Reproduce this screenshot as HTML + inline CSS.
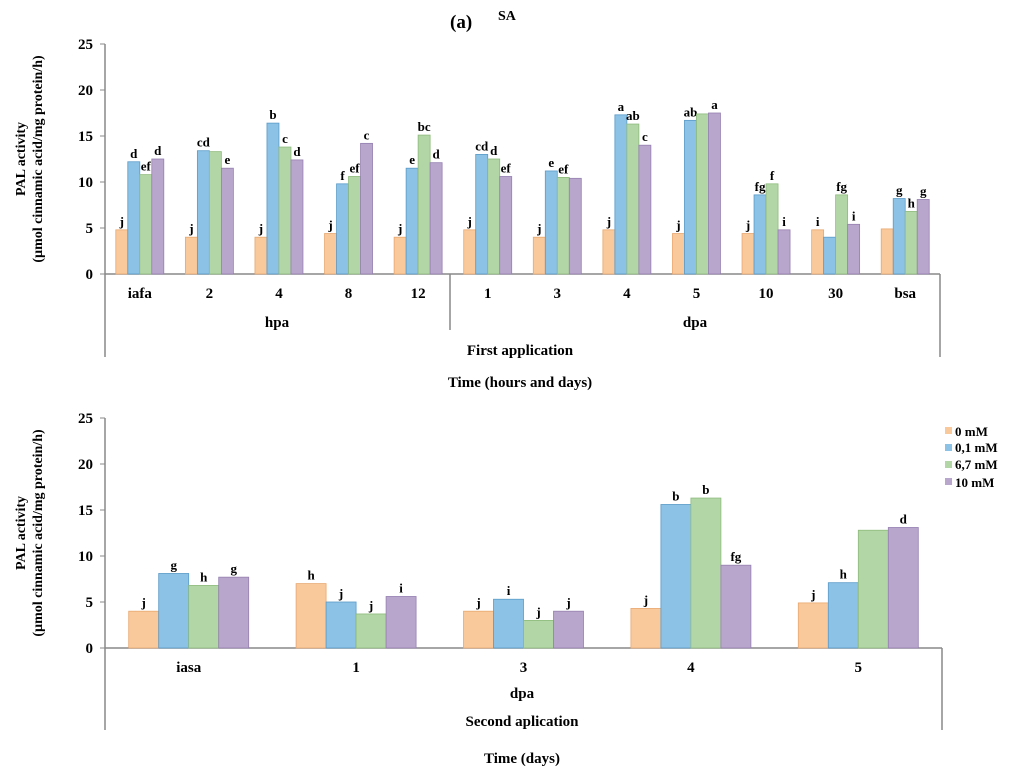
<!DOCTYPE html>
<html><head><meta charset="utf-8"><style>
body{margin:0;background:#fff;}
svg{display:block;font-family:"Liberation Serif",serif;font-weight:bold;}
</style></head><body>
<svg id="c" width="1024" height="773" viewBox="0 0 1024 773" xmlns="http://www.w3.org/2000/svg">
<text x="450" y="28" font-size="19">(a)</text>
<text x="498" y="20" font-size="14">SA</text>
<g id="top"></g><g id="bot"></g>
<g font-size="13">
<rect x="945" y="427" width="7" height="7" fill="#f9c89b"/><text x="955" y="436">0 mM</text>
<rect x="945" y="444" width="7" height="7" fill="#8cc2e6"/><text x="955" y="452">0,1 mM</text>
<rect x="945" y="461" width="7" height="7" fill="#b3d6a6"/><text x="955" y="469">6,7 mM</text>
<rect x="945" y="478" width="7" height="7" fill="#b9a6cc"/><text x="955" y="487">10 mM</text>
</g>
</svg>
<script>
const topCats=["iafa","2","4","8","12","1","3","4","5","10","30","bsa"];
const top0=[4.8,4.0,4.0,4.4,4.0,4.8,4.0,4.8,4.4,4.4,4.8,4.9];
const top1=[12.2,13.4,16.4,9.8,11.5,13.0,11.2,17.3,16.7,8.6,4.0,8.2];
const top2=[10.8,13.3,13.8,10.6,15.1,12.5,10.5,16.3,17.4,9.8,8.6,6.8];
const top3=[12.5,11.5,12.4,14.2,12.1,10.6,10.4,14.0,17.5,4.8,5.4,8.1];
const topLab=[["j","d","ef","d"],["j","cd","","e"],["j","b","c","d"],["j","f","ef","c"],["j","e","bc","d"],["j","cd","d","ef"],["j","e","ef",""],["j","a","ab","c"],["j","ab","","a"],["j","fg","f","i"],["i","","fg","i"],["","g","h","g"]];
const botCats=["iasa","1","3","4","5"];
const bot0=[4.0,7.0,4.0,4.3,4.9];
const bot1=[8.1,5.0,5.3,15.6,7.1];
const bot2=[6.8,3.7,3.0,16.3,12.8];
const bot3=[7.7,5.6,4.0,9.0,13.1];
const botLab=[["j","g","h","g"],["h","j","j","i"],["j","i","j","j"],["j","b","b","fg"],["j","h","","d"]];
const yTicks=[0,5,10,15,20,25];
const colors=["#f9c89b","#8cc2e6","#b3d6a6","#b9a6cc"];
const edges=["#e8a870","#5a9bc8","#8dba7c","#9580b0"];
const NS="http://www.w3.org/2000/svg";
function el(p,t,a,txt){const e=document.createElementNS(NS,t);for(const k in a)e.setAttribute(k,a[k]);if(txt!==undefined)e.textContent=txt;p.appendChild(e);return e;}
function chart(g,x0,x1,y0,cats,series,labs,barW,opt){
  const y=v=>y0-v*9.2;
  const cw=(x1-x0)/cats.length;
  const ax=el(g,"line",{x1:x0,y1:y(25),x2:x0,y2:opt.boxBottom,stroke:"#888","stroke-width":1.5});
  
  el(g,"line",{x1:x0,y1:y0,x2:x1,y2:y0,stroke:"#888","stroke-width":1.5});
  el(g,"line",{x1:x1,y1:y0,x2:x1,y2:opt.boxBottom,stroke:"#888","stroke-width":1.5});
  yTicks.forEach(t=>{
    el(g,"line",{x1:x0-5,y1:y(t),x2:x0,y2:y(t),stroke:"#888"});
    const tx=el(g,"text",{x:x0-12,y:y(t)+5,"font-size":15,"text-anchor":"end"},t);
    
  });
  cats.forEach((c,i)=>{
    const cx=x0+cw*(i+0.5);
    series.forEach((s,j)=>{
      const bx=cx-2*barW+j*barW;
      const r=el(g,"rect",{x:bx,y:y(s[i]),width:barW,height:s[i]*9.2,fill:colors[j],stroke:edges[j],"stroke-width":0.8});
      
      if(labs[i][j]){const l=el(g,"text",{x:bx+barW/2,y:y(s[i])-4,"font-size":opt.lfs,"text-anchor":"middle"},labs[i][j]);
        }
    });
    const tl=el(g,"text",{x:cx,y:y0+24,"font-size":15,"text-anchor":"middle"},c);
    
  });
  const yt=el(g,"text",{transform:`translate(${opt.ytx},${y(12.5)}) rotate(-90)`,"font-size":14,"text-anchor":"middle"});
  
  el(yt,"tspan",{x:0,dy:-8},"PAL activity");
  el(yt,"tspan",{x:0,dy:17},"(µmol cinnamic acid/mg protein/h)");
}
const gt=document.getElementById("top"),gb=document.getElementById("bot");
chart(gt,105,940,274,topCats,[top0,top1,top2,top3],topLab,12,{boxBottom:357,lfs:13,ytx:33});
el(gt,"line",{x1:450,y1:274,x2:450,y2:330,stroke:"#888","stroke-width":1.5});
el(gt,"text",{x:277,y:327,"font-size":15,"text-anchor":"middle"},"hpa");
el(gt,"text",{x:695,y:327,"font-size":15,"text-anchor":"middle"},"dpa");
el(gt,"text",{x:520,y:355,"font-size":15,"text-anchor":"middle"},"First application");
const t1=el(gt,"text",{x:520,y:387,"font-size":15,"text-anchor":"middle"},"Time (hours and days)");

chart(gb,105,942,648,botCats,[bot0,bot1,bot2,bot3],botLab,30,{boxBottom:730,lfs:13,ytx:33});
el(gb,"text",{x:522,y:698,"font-size":15,"text-anchor":"middle"},"dpa");
el(gb,"text",{x:522,y:726,"font-size":15,"text-anchor":"middle"},"Second aplication");
const t2=el(gb,"text",{x:522,y:763,"font-size":15,"text-anchor":"middle"},"Time (days)");

</script>
</body></html>
